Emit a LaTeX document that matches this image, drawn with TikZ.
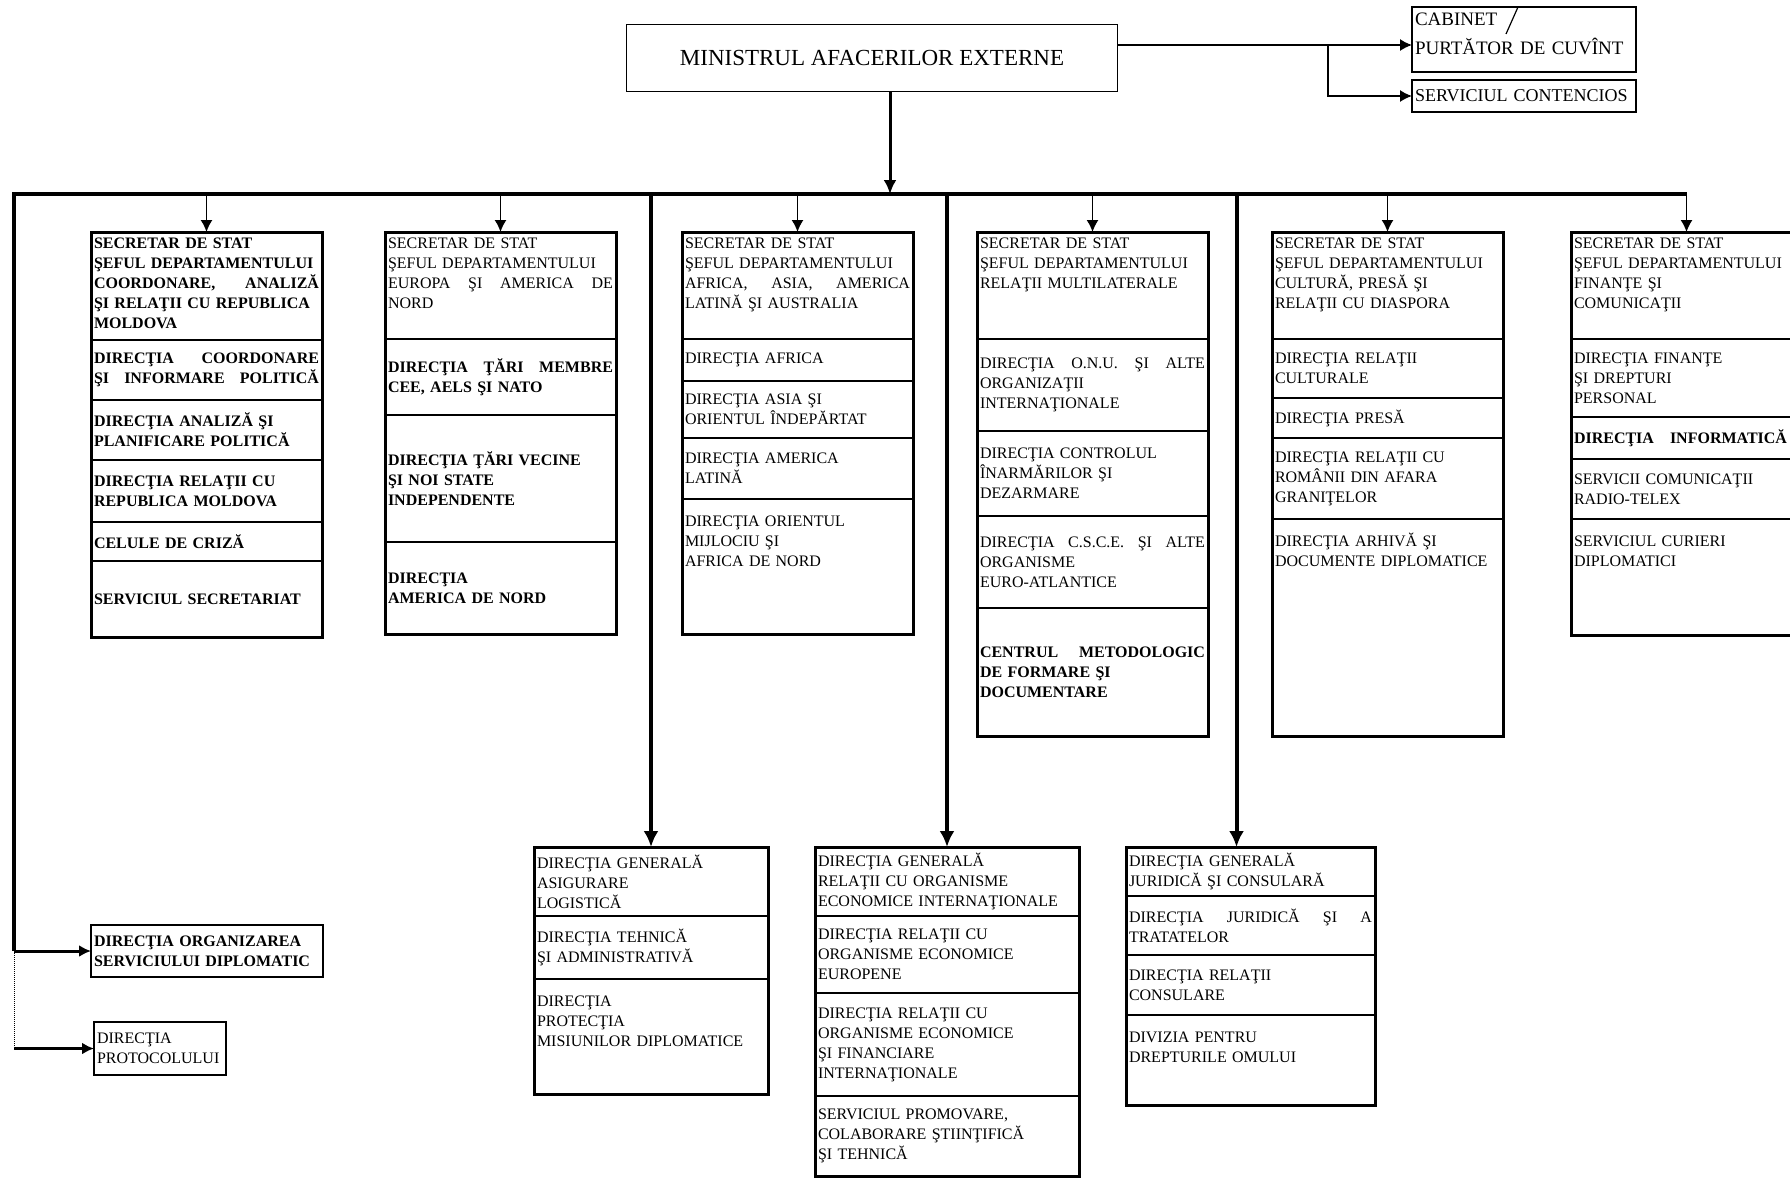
\documentclass[tikz,border=0pt]{standalone}
\usepackage{fontspec}
\setmainfont{Liberation Serif}
\usetikzlibrary{arrows.meta,positioning}
\newcommand{\cellfont}{\fontsize{16pt}{20pt}\selectfont}

\begin{document}
\begin{tikzpicture}[x=1pt, y=-1pt,
    cell/.style={draw, line width=1.8pt, outer sep=0pt, inner xsep=3pt, inner ysep=4pt, text width=#1, align=left, font=\cellfont},
    cell/.default=225pt,
    bcell/.style={cell=#1, font=\cellfont\bfseries},
    bcell/.default=225pt,
    colframe/.style={line width=3pt},
    bus/.style={line width=3.5pt},
    feed/.style={line width=1.5pt, -{Latex[length=12pt,width=12pt]}},
    drop/.style={line width=4pt, -{Latex[length=16pt,width=15pt]}}]
    \useasboundingbox (0,0) rectangle (1790,1179);
    \clip (0,0) rectangle (1790,1179);
    %Minister and cabinet
    \node[draw, line width=1.4pt, outer sep=0pt, minimum width=491pt, minimum height=67pt, font=\fontsize{23pt}{27pt}\selectfont] (ministru) at (872,58) {MINISTRUL AFACERILOR EXTERNE};
    \node[draw, line width=2pt, outer sep=0pt, anchor=north west, inner xsep=3pt, inner ysep=3pt, text width=218pt, align=left, text height=15pt, text depth=44pt, font=\fontsize{19pt}{29pt}\selectfont] (cabinet) at (1412,7) {CABINET\\PURTĂTOR DE CUVÎNT};
    \node[draw, line width=2pt, outer sep=0pt, anchor=north west, inner xsep=3pt, inner ysep=2pt, text width=218pt, align=left, minimum height=32pt, font=\fontsize{18pt}{20pt}\selectfont] (contencios) at (1412,80) {SERVICIUL CONTENCIOS};
    \draw[line width=1.2pt] ([xshift=106pt]cabinet.north west) -- ++(-12,27);
    %Departments
    \node[bcell, anchor=north west, text height=12pt, text depth=88pt] (coord) at (91,232) {SECRETAR DE STAT\\ŞEFUL DEPARTAMENTULUI\\COORDONARE,\hfill ANALIZĂ\\ŞI RELAŢII CU REPUBLICA\\MOLDOVA};
    \node[bcell, minimum height=60pt, below=0pt of coord] (coord1) {DIRECŢIA\hfill COORDONARE\\ŞI\hfill INFORMARE\hfill POLITICĂ};
    \node[bcell, minimum height=60pt, below=0pt of coord1] (coord2) {DIRECŢIA ANALIZĂ ŞI\\PLANIFICARE POLITICĂ};
    \node[bcell, minimum height=62pt, below=0pt of coord2] (coord3) {DIRECŢIA RELAŢII CU\\REPUBLICA MOLDOVA};
    \node[bcell, minimum height=39pt, below=0pt of coord3] (coord4) {CELULE DE CRIZĂ};
    \node[bcell, minimum height=76pt, below=0pt of coord4] (coord5) {SERVICIUL SECRETARIAT};

    \node[cell, anchor=north west, text height=12pt, text depth=87pt] (europa) at (385,232) {SECRETAR DE STAT\\ŞEFUL DEPARTAMENTULUI\\EUROPA\hfill ŞI\hfill AMERICA\hfill DE\\NORD};
    \node[bcell, minimum height=76pt, below=0pt of europa] (europa1) {DIRECŢIA\hfill ŢĂRI\hfill MEMBRE\\CEE, AELS ŞI NATO};
    \node[bcell, minimum height=127pt, below=0pt of europa1] (europa2) {DIRECŢIA ŢĂRI VECINE\\ŞI NOI STATE\\INDEPENDENTE};
    \node[bcell, minimum height=92pt, below=0pt of europa2] (europa3) {DIRECŢIA\\AMERICA DE NORD};

    \node[cell, anchor=north west, text height=12pt, text depth=87pt] (africa) at (682,232) {SECRETAR DE STAT\\ŞEFUL DEPARTAMENTULUI\\AFRICA,\hfill ASIA,\hfill AMERICA\\LATINĂ ŞI AUSTRALIA};
    \node[cell, minimum height=42pt, below=0pt of africa] (africa1) {DIRECŢIA AFRICA};
    \node[cell, minimum height=57pt, below=0pt of africa1] (africa2) {DIRECŢIA ASIA ŞI\\ORIENTUL ÎNDEPĂRTAT};
    \node[cell, minimum height=61pt, below=0pt of africa2] (africa3) {DIRECŢIA AMERICA\\LATINĂ};
    \node[cell, below=0pt of africa3, text height=23pt, text depth=104pt] (africa4) {DIRECŢIA ORIENTUL\\MIJLOCIU ŞI\\AFRICA DE NORD};

    \node[cell, anchor=north west, text height=12pt, text depth=87pt] (multi) at (977,232) {SECRETAR DE STAT\\ŞEFUL DEPARTAMENTULUI\\RELAŢII MULTILATERALE};
    \node[cell, minimum height=92pt, below=0pt of multi] (multi1) {DIRECŢIA\hfill O.N.U.\hfill ŞI\hfill ALTE\\ORGANIZAŢII\\INTERNAŢIONALE};
    \node[cell, minimum height=85pt, below=0pt of multi1] (multi2) {DIRECŢIA CONTROLUL\\ÎNARMĂRILOR ŞI\\DEZARMARE};
    \node[cell, minimum height=92pt, below=0pt of multi2] (multi3) {DIRECŢIA\hfill C.S.C.E.\hfill ŞI\hfill ALTE\\ORGANISME\\EURO-ATLANTICE};
    \node[bcell, minimum height=128pt, below=0pt of multi3] (multi4) {CENTRUL\hfill METODOLOGIC\\DE FORMARE ŞI\\DOCUMENTARE};

    \node[cell, anchor=north west, text height=12pt, text depth=87pt] (cultura) at (1272,232) {SECRETAR DE STAT\\ŞEFUL DEPARTAMENTULUI\\CULTURĂ, PRESĂ ŞI\\RELAŢII CU DIASPORA};
    \node[cell, minimum height=59pt, below=0pt of cultura] (cultura1) {DIRECŢIA RELAŢII\\CULTURALE};
    \node[cell, minimum height=40pt, below=0pt of cultura1] (cultura2) {DIRECŢIA PRESĂ};
    \node[cell, minimum height=81pt, below=0pt of cultura2] (cultura3) {DIRECŢIA RELAŢII CU\\ROMÂNII DIN AFARA\\GRANIŢELOR};
    \node[cell, below=0pt of cultura3, text height=23pt, text depth=186pt] (cultura4) {DIRECŢIA ARHIVĂ ŞI\\DOCUMENTE DIPLOMATICE};

    \node[cell, anchor=north west, text height=12pt, text depth=87pt] (finante) at (1571,232) {SECRETAR DE STAT\\ŞEFUL DEPARTAMENTULUI\\FINANŢE ŞI\\COMUNICAŢII};
    \node[cell, minimum height=78pt, below=0pt of finante] (finante1) {DIRECŢIA FINANŢE\\ŞI DREPTURI\\PERSONAL};
    \node[bcell, minimum height=42pt, below=0pt of finante1] (finante2) {DIRECŢIA\quad INFORMATICĂ};
    \node[cell, minimum height=60pt, below=0pt of finante2] (finante3) {SERVICII COMUNICAŢII\\RADIO-TELEX};
    \node[cell, below=0pt of finante3, text height=23pt, text depth=85pt] (finante4) {SERVICIUL CURIERI\\DIPLOMATICI};
    %General directorates
    \node[cell=228pt, anchor=north west, minimum height=69pt] (logistica) at (534,847) {DIRECŢIA GENERALĂ\\ASIGURARE\\LOGISTICĂ};
    \node[cell=228pt, minimum height=63pt, below=0pt of logistica] (logistica1) {DIRECŢIA TEHNICĂ\\ŞI ADMINISTRATIVĂ};
    \node[cell=228pt, below=0pt of logistica1, text height=23pt, text depth=84pt] (logistica2) {DIRECŢIA\\PROTECŢIA\\MISIUNILOR DIPLOMATICE};

    \node[cell=258pt, anchor=north west, minimum height=69pt] (economic) at (815,847) {DIRECŢIA GENERALĂ\\RELAŢII CU ORGANISME\\ECONOMICE INTERNAŢIONALE};
    \node[cell=258pt, minimum height=77pt, below=0pt of economic] (economic1) {DIRECŢIA RELAŢII CU\\ORGANISME ECONOMICE\\EUROPENE};
    \node[cell=258pt, minimum height=103pt, below=0pt of economic1] (economic2) {DIRECŢIA RELAŢII CU\\ORGANISME ECONOMICE\\ŞI FINANCIARE\\INTERNAŢIONALE};
    \node[cell=258pt, minimum height=80pt, below=0pt of economic2] (economic3) {SERVICIUL PROMOVARE,\\COLABORARE ŞTIINŢIFICĂ\\ŞI TEHNICĂ};

    \node[cell=243pt, anchor=north west, minimum height=49pt] (juridic) at (1126,847) {DIRECŢIA GENERALĂ\\JURIDICĂ ŞI CONSULARĂ};
    \node[cell=243pt, minimum height=59pt, below=0pt of juridic] (juridic1) {DIRECŢIA\hfill JURIDICĂ\hfill ŞI\hfill A\\TRATATELOR};
    \node[cell=243pt, minimum height=60pt, below=0pt of juridic1] (juridic2) {DIRECŢIA RELAŢII\\CONSULARE};
    \node[cell=243pt, below=0pt of juridic2, text height=23pt, text depth=59pt] (juridic3) {DIVIZIA PENTRU\\DREPTURILE OMULUI};
    %Left side
    \node[bcell=226pt, anchor=north west, minimum height=52pt] (organizare) at (91,925) {DIRECŢIA ORGANIZAREA\\SERVICIULUI DIPLOMATIC};
    \node[cell=126pt, anchor=north west, minimum height=53pt] (protocol) at (94,1022) {DIRECŢIA\\PROTOCOLULUI};
    %Frames
    \draw[colframe] (coord.north west) rectangle (coord5.south east);
    \draw[colframe] (europa.north west) rectangle (europa3.south east);
    \draw[colframe] (africa.north west) rectangle (africa4.south east);
    \draw[colframe] (multi.north west) rectangle (multi4.south east);
    \draw[colframe] (cultura.north west) rectangle (cultura4.south east);
    \draw[colframe] (finante.north west) rectangle (finante4.south east);
    \draw[colframe] (logistica.north west) rectangle (logistica2.south east);
    \draw[colframe] (economic.north west) rectangle (economic3.south east);
    \draw[colframe] (juridic.north west) rectangle (juridic3.south east);
    %Connectors at the top
    \coordinate (split) at (1328,45);
    \draw[line width=1.4pt] (ministru.east |- split) -- (split);
    \draw[feed] (split) -- (split -| cabinet.west);
    \draw[feed] (split) -- (split |- contencios.west) -- (contencios.west);
    \coordinate (left) at (14,194);
    \coordinate (hub) at (890,194);
    \draw[bus] (left |- organizare.west) -- (left) -- (finante.north |- left);
    \draw[line width=3pt, -{Latex[length=14pt,width=13pt]}] (ministru.south -| hub) -- (hub);
    %Secretaries of state
    \draw[feed] (coord.north |- left) -- (coord.north);
    \draw[feed] (europa.north |- left) -- (europa.north);
    \draw[feed] (africa.north |- left) -- (africa.north);
    \draw[feed] (multi.north |- left) -- (multi.north);
    \draw[feed] (cultura.north |- left) -- (cultura.north);
    \draw[feed] (finante.north |- left) -- (finante.north);
    %General directorates
    \coordinate (jtop) at ([xshift=-14pt]juridic.north);
    \draw[drop] (logistica.north |- left) -- (logistica.north);
    \draw[drop] (economic.north |- left) -- (economic.north);
    \draw[drop] (jtop |- left) -- (jtop);
    %Left side
    \draw[feed, line width=3pt] (left |- organizare.west) -- (organizare.west);
    \draw[line width=1pt, densely dotted] (left |- organizare.west) -- (left |- protocol.west);
    \draw[feed, line width=3pt] (left |- protocol.west) -- (protocol.west);
\end{tikzpicture}
\end{document}
